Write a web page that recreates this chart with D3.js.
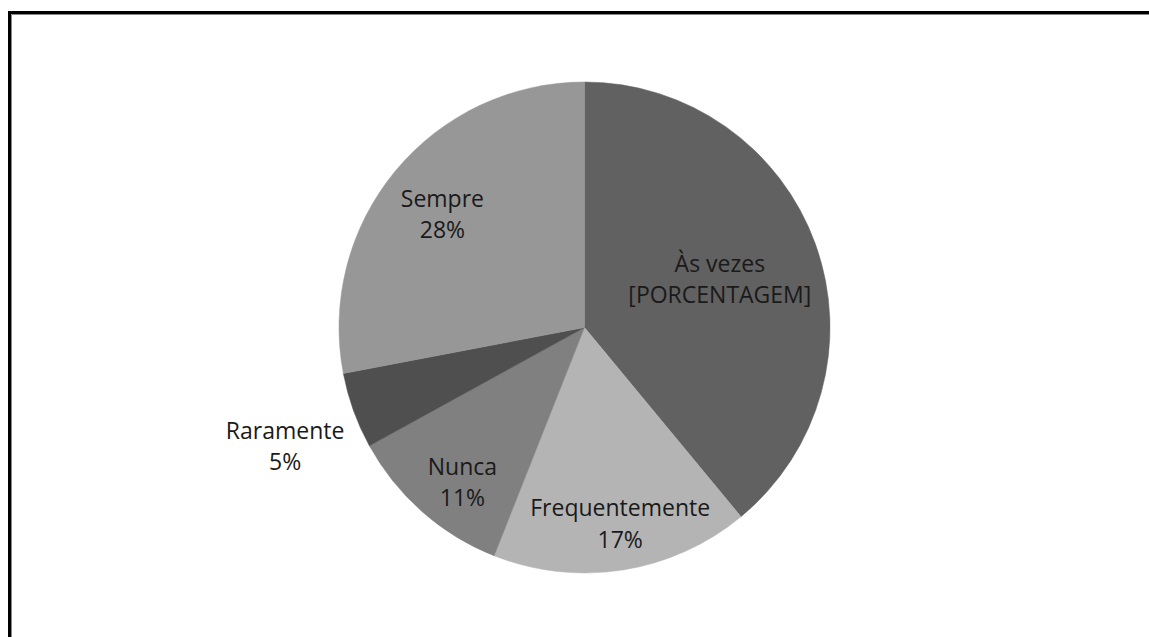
<!DOCTYPE html>
<html>
<head>
<meta charset="utf-8">
<script src="https://cdn.jsdelivr.net/npm/d3@7"></script>
<style>
  html, body { margin: 0; padding: 0; background: #fff; }
  svg { display: block; }
  text { font-family: "Open Sans", Lato, sans-serif; fill: #1a1a1a; }
</style>
</head>
<body>
<svg id="chart" width="1149" height="637"></svg>
<script>
const categories = ["Às vezes", "Frequentemente", "Nunca", "Raramente", "Sempre"];
const values = [39, 17, 11, 5, 28];
const valueLabels = ["[PORCENTAGEM]", "17%", "11%", "5%", "28%"];
const colors = ["#616161", "#b4b4b4", "#808080", "#4f4f4f", "#979797"];
// label placement: angle (deg, clockwise from top) and radius factor
const labelAngles = [73.5, 170.1, 216.8, 247, 306.5];
const labelRadius = [0.575, 0.845, 0.83, 1.325, 0.72];

const W = 1149, H = 637;
const cx = 584.5, cy = 327.5, R = 245.5;
const svg = d3.select("#chart");

// outer frame
svg.append("rect")
  .attr("x", 9.5).attr("y", 12.5)
  .attr("width", W + 20).attr("height", H + 20)
  .attr("fill", "none").attr("stroke", "#000").attr("stroke-width", 3);
svg.append("line")
  .attr("x1", 11.5).attr("x2", W).attr("y1", 14.5).attr("y2", 14.5)
  .attr("stroke", "#888").attr("stroke-width", 1);
svg.append("line")
  .attr("x1", 11.5).attr("x2", 11.5).attr("y1", 14.5).attr("y2", H)
  .attr("stroke", "#888").attr("stroke-width", 1);

const pie = d3.pie().value(d => d.v).sort(null);
const data = pie(categories.map((c, i) => ({ c, v: values[i], l: valueLabels[i], i })));
const arc = d3.arc().innerRadius(0).outerRadius(R);

const g = svg.append("g").attr("transform", `translate(${cx},${cy})`);
g.selectAll("path.slice").data(data).join("path")
  .attr("class", "slice")
  .attr("d", arc)
  .attr("fill", d => colors[d.data.i])
  .attr("stroke", d => colors[d.data.i])
  .attr("stroke-width", 0.5);

const fs = 23, lh = 31.5;
const labels = g.selectAll("g.lbl").data(data).join("g")
  .attr("class", "lbl")
  .attr("transform", d => {
    const a = labelAngles[d.data.i] * Math.PI / 180;
    const r = labelRadius[d.data.i] * R;
    return `translate(${r * Math.sin(a)},${-r * Math.cos(a)})`;
  });
labels.append("text")
  .attr("text-anchor", "middle")
  .attr("y", -lh / 2)
  .style("font-size", fs + "px")
  .text(d => d.data.c);
labels.append("text")
  .attr("text-anchor", "middle")
  .attr("y", lh / 2)
  .style("font-size", fs + "px")
  .text(d => d.data.l);
</script>
</body>
</html>
